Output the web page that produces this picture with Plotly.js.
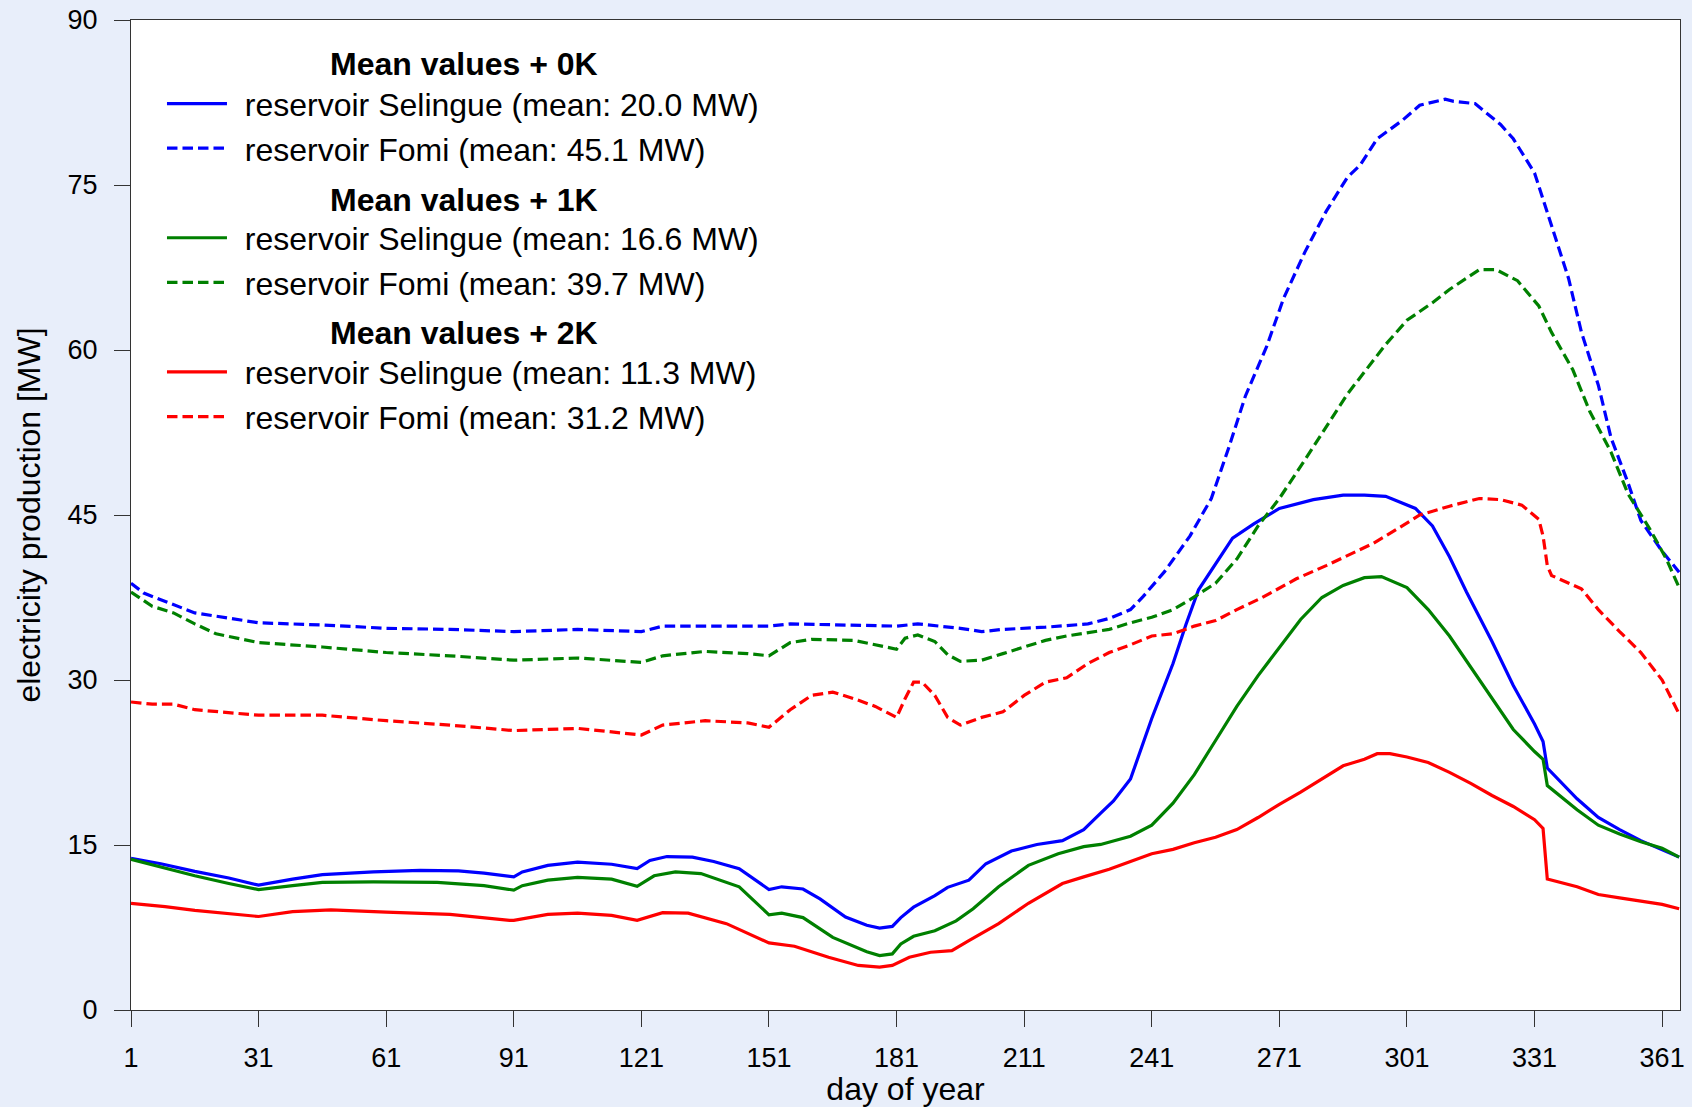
<!DOCTYPE html>
<html>
<head>
<meta charset="utf-8">
<script src="https://cdn.plot.ly/plotly-3.0.1.min.js"></script>
<style>html,body{margin:0;padding:0;background:#E8EEFA;}</style>
</head>
<body>
<div id="chart" style="width:1692px;height:1107px;"></div>
<script>
// ---- data (day of year, electricity production in MW) ----
const tickDays = [1, 31, 61, 91, 121, 151, 181, 211, 241, 271, 301, 331, 361];
const yTicks = [0, 15, 30, 45, 60, 75, 90];

const groupTitles = ["Mean values + 0K", "Mean values + 1K", "Mean values + 2K"];
const seriesNames = [
  "reservoir Selingue (mean: 20.0 MW)", "reservoir Fomi (mean: 45.1 MW)",
  "reservoir Selingue (mean: 16.6 MW)", "reservoir Fomi (mean: 39.7 MW)",
  "reservoir Selingue (mean: 11.3 MW)", "reservoir Fomi (mean: 31.2 MW)"
];

const selingue0Days = [1,8,16,24,31,39,46,58,69,78,84,91,93,99,106,114,120,123,127,133,138,144,151,154,159,163,169,174,177,180,182,185,190,193,198,202,208,214,220,225,229,232,236,241,246,249,252,256,260,265,271,279,286,291,296,303,307,311,315,321,326,331,333,334,337,341,346,351,356,361,365];
const selingue0 = [13.8,13.3,12.6,12.0,11.35,11.9,12.3,12.55,12.7,12.65,12.45,12.1,12.55,13.15,13.45,13.25,12.85,13.6,13.95,13.9,13.5,12.85,10.95,11.2,11.0,10.1,8.45,7.7,7.45,7.6,8.4,9.35,10.4,11.15,11.8,13.3,14.45,15.05,15.4,16.4,17.9,19.0,21.0,26.5,31.5,35.0,38.2,40.6,42.9,44.2,45.6,46.4,46.8,46.8,46.7,45.6,44.0,41.2,38.0,33.5,29.5,26.0,24.4,22.0,20.8,19.2,17.5,16.4,15.4,14.6,13.9];

const fomi0Days = [1,4,8,16,21,31,46,61,76,91,106,121,126,151,156,181,186,196,201,206,216,226,231,236,239,244,250,255,259,263,268,272,277,282,287,290,294,300,304,310,312,317,323,326,331,335,339,342,346,349,353,356,361,365];
const fomi0 = [38.8,37.9,37.3,36.1,35.8,35.2,35.0,34.7,34.6,34.4,34.6,34.4,34.9,34.9,35.1,34.9,35.1,34.7,34.4,34.6,34.8,35.1,35.6,36.4,37.6,39.85,43.1,46.5,51.0,55.8,60.3,64.7,68.9,72.6,75.7,76.8,79.2,80.9,82.25,82.8,82.6,82.4,80.5,79.2,76.1,71.3,66.5,61.65,56.8,52.0,47.9,44.5,41.7,39.8];

const selingue1Days = [1,8,16,24,31,39,46,58,73,84,91,93,99,106,114,120,124,129,135,144,151,154,159,166,174,177,180,182,185,190,195,199,205,212,219,225,229,236,241,246,251,256,261,266,271,276,281,286,291,295,301,306,311,316,321,326,331,333,334,341,346,351,356,361,365];
const selingue1 = [13.7,13.0,12.2,11.5,10.95,11.3,11.6,11.65,11.6,11.3,10.9,11.3,11.8,12.05,11.9,11.25,12.2,12.55,12.4,11.2,8.65,8.8,8.4,6.6,5.3,4.95,5.1,6.0,6.7,7.2,8.1,9.2,11.2,13.15,14.2,14.85,15.05,15.8,16.8,18.8,21.4,24.5,27.6,30.4,33.0,35.5,37.5,38.6,39.3,39.4,38.4,36.4,34.0,31.2,28.3,25.5,23.5,22.8,20.4,18.2,16.8,16.0,15.3,14.7,13.9];

const fomi1Days = [1,6,11,16,21,31,46,61,76,91,106,121,126,136,146,151,156,161,171,176,181,183,186,190,193,196,201,206,211,216,221,226,231,236,241,246,250,256,261,266,271,277,282,287,291,296,301,307,311,318,322,327,332,335,340,344,349,353,358,362,365];
const fomi1 = [38.0,36.7,36.1,35.1,34.2,33.4,33.0,32.5,32.2,31.8,32.0,31.6,32.2,32.6,32.4,32.2,33.4,33.7,33.6,33.2,32.8,33.8,34.1,33.5,32.3,31.7,31.8,32.4,33.0,33.6,34.0,34.3,34.6,35.2,35.7,36.4,37.3,38.8,41.0,44.0,46.5,50.0,53.0,56.0,58.0,60.5,62.7,64.3,65.5,67.3,67.3,66.3,64.0,61.6,58.2,54.4,50.7,46.9,43.8,41.0,38.4];

const selingue2Days = [1,9,16,25,31,39,48,61,76,90,91,99,106,114,120,126,132,141,151,157,165,172,177,180,184,189,194,198,205,212,220,225,231,236,241,246,251,256,261,266,271,276,281,286,291,294,297,301,306,311,316,321,326,331,333,334,341,346,351,356,361,365];
const selingue2 = [9.7,9.4,9.05,8.75,8.5,8.95,9.1,8.9,8.7,8.15,8.15,8.7,8.8,8.6,8.15,8.85,8.8,7.85,6.1,5.8,4.8,4.05,3.9,4.05,4.8,5.25,5.4,6.3,7.85,9.7,11.5,12.1,12.8,13.5,14.2,14.6,15.2,15.7,16.4,17.5,18.7,19.8,21.0,22.2,22.8,23.3,23.3,23.0,22.5,21.6,20.6,19.5,18.5,17.3,16.5,11.9,11.2,10.5,10.2,9.9,9.6,9.2];

const fomi2Days = [1,6,11,16,31,46,61,76,91,106,121,126,136,146,151,156,161,166,171,176,181,183,185,187,190,193,196,201,206,211,216,221,226,231,236,241,246,251,256,261,267,275,282,289,293,299,304,311,318,323,328,332,333,334,335,342,346,351,356,361,365];
const fomi2 = [28.0,27.8,27.8,27.3,26.8,26.8,26.3,25.9,25.4,25.6,25.0,25.9,26.3,26.1,25.7,27.3,28.6,28.9,28.3,27.6,26.6,28.3,29.8,29.8,28.6,26.6,25.9,26.6,27.1,28.6,29.8,30.2,31.5,32.5,33.2,34.0,34.2,34.9,35.4,36.4,37.5,39.2,40.4,41.7,42.4,43.8,45.0,45.8,46.5,46.4,45.9,44.6,43.1,40.4,39.5,38.3,36.4,34.4,32.5,30.0,26.9];

// ---- styling ----
const FONT = "Liberation Sans, Arial, sans-serif";
const colors = ["#0000FF", "#008000", "#FF0000"];
const DASH = "10.5px,5px";
const namePad = "\u2009\u2009";

const xs = [selingue0Days, fomi0Days, selingue1Days, fomi1Days, selingue2Days, fomi2Days];
const ys = [selingue0, fomi0, selingue1, fomi1, selingue2, fomi2];

const traces = xs.map((x, i) => {
  const g = Math.floor(i / 2);
  return {
    x: x, y: ys[i], type: "scatter", mode: "lines",
    name: namePad + seriesNames[i],
    legendgroup: "g" + g,
    line: {color: colors[g], width: 3.2, dash: (i % 2 === 1) ? DASH : "solid"}
  };
});

// group headings of the legend, centred over the legend block
const titleY = [0.9553, 0.8179, 0.6838];
const annotations = groupTitles.map((t, g) => ({
  xref: "paper", yref: "paper", x: 0.2153, y: titleY[g],
  xanchor: "center", yanchor: "middle", showarrow: false,
  text: "<b>" + t + "</b>", font: {size: 32, family: FONT, color: "#000"}
}));

const axisCommon = {
  showline: true, linecolor: "#333", linewidth: 1, mirror: true,
  ticks: "outside", ticklen: 16, tickwidth: 1, tickcolor: "#333",
  showgrid: false, zeroline: false,
  tickfont: {size: 27, family: FONT, color: "#000"}
};

const layout = {
  width: 1692, height: 1107,
  paper_bgcolor: "#E8EEFA", plot_bgcolor: "#FFFFFF",
  margin: {l: 131, r: 12, t: 20, b: 97},
  font: {family: FONT, color: "#000"},
  xaxis: Object.assign({}, axisCommon, {
    range: [1, 365.2], tickmode: "array", tickvals: tickDays, ticktext: tickDays.map(String),
    ticklabelstandoff: 8,
    title: {text: "day of year", font: {size: 32, family: FONT, color: "#000"}, standoff: 7}
  }),
  yaxis: Object.assign({}, axisCommon, {
    range: [0, 90], tickmode: "array", tickvals: yTicks, ticktext: yTicks.map(String),
    ticklabelstandoff: 11, automargin: "left",
    title: {text: "electricity production [MW]", font: {size: 32, family: FONT, color: "#000"}, standoff: 17}
  }),
  annotations: annotations,
  showlegend: true,
  legend: {
    x: 0.02, y: 0.9432, xanchor: "left", yanchor: "top",
    bgcolor: "rgba(0,0,0,0)", borderwidth: 0,
    font: {size: 32, family: FONT, color: "#000"},
    traceorder: "grouped", tracegroupgap: 45, itemwidth: 60
  }
};

Plotly.newPlot("chart", traces, layout, {displayModeBar: false, responsive: false});
</script>
</body>
</html>
